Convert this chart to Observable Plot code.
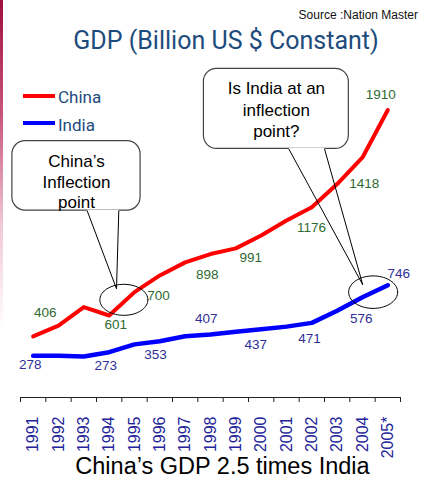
<!DOCTYPE html>
<html><head><meta charset="utf-8">
<script src="https://cdn.jsdelivr.net/npm/d3@7"></script>
<script src="https://cdn.jsdelivr.net/npm/@observablehq/plot@0.6"></script>
<style>
body{margin:0;background:#fff;width:421px;height:478px;overflow:hidden;position:relative;font-family:"Liberation Sans",Arial,sans-serif}
#strip{position:absolute;left:0;top:0;width:3px;height:330px;background:linear-gradient(#9e1040,#c8557c 35%,#f0c8d6 68%,#fff)}
#source{position:absolute;right:3px;top:8px;font-size:12px;line-height:14px;color:#111;white-space:nowrap}
#title{position:absolute;left:0;width:452px;text-align:center;top:26px;font-family:Roboto,sans-serif;font-size:25px;line-height:30px;color:#1d4b7c;white-space:nowrap}
#chart{position:absolute;left:0;top:56px}
#chart svg{overflow:visible}
.lg{position:absolute;height:4px;width:32px;left:23px}
.lt{position:absolute;left:58px;font-family:Roboto,sans-serif;font-size:17px;line-height:20px;color:#1d4b7c}
#caption{position:absolute;left:0;width:445px;text-align:center;top:455px;font-size:23.5px;line-height:22px;color:#000;white-space:nowrap}
</style></head>
<body>
<div id="strip"></div>
<div id="source">Source :Nation Master</div>
<div id="title">GDP (Billion US $ Constant)</div>
<div id="chart"></div>
<div id="legend"></div>
<div id="caption">China’s GDP 2.5 times India</div>
<script>
// ---- data ----
const years = [1991,1992,1993,1994,1995,1996,1997,1998,1999,2000,2001,2002,2003,2004,2005];
const yearLabels = ["1991","1992","1993","1994","1995","1996","1997","1998","1999","2000","2001","2002","2003","2004","2005*"];
const china = [406,478,601,545,700,811,898,953,991,1076,1176,1264,1418,1595,1910];
const india = [278,277,273,301,353,374,407,418,437,454,471,496,576,666,746];
const seriesNames = ["China","India"];
const chinaLabelYears = [1991,1993,1995,1997,1999,2001,2003,2005];
const chinaLabelValues = [406,601,700,898,991,1176,1418,1910];
const indiaLabelYears = [1991,1993,1995,1997,1999,2001,2003,2005];
const indiaLabelValues = [278,273,353,407,437,471,576,746];
const calloutTexts = ["China’s\nInflection\npoint","Is India at an\ninflection\npoint?"];

// ---- layout (pixel offsets of value labels) ----
const chinaOff = [[12,-24],[32,18],[24,4],[22,12],[15,9],[25,7],[27,0],[-7,-15]];
const indiaOff = [[-3,9],[22,9],[21,10],[21,-18],[20,13],[23,12],[24,8],[11,-12]];
const colors = {China:"#ff0000", India:"#0000ff"};

// annotation geometry in data coordinates (year, GDP)
const bubbles = [
  {x1:1990.18, x2:1995.24, y1:1242, y2:1703, tx:1992.71, ty:1438, lh:1.19,
   b1:1993.13, b2:1994.38, tipX:1994.29, tipY:722,
   ex:1994.58, ey:649, erx:0.947, ery:103},
  {x1:1997.74, x2:2003.46, y1:1652, y2:2184, tx:2000.6, ty:1917, lh:1.27,
   b1:2001.09, b2:2002.5, tipX:2004.01, tipY:749,
   ex:2004.42, ey:700, erx:0.967, ery:108}
];

const bounds = years.map(y => y - 0.5).concat([years[years.length-1] + 0.5]);

function ellipsePts(b){
  const pts = [];
  for (let k = 0; k <= 72; k++) {
    const a = k / 72 * 2 * Math.PI;
    pts.push([b.ex + b.erx * Math.cos(a), b.ey + b.ery * Math.sin(a)]);
  }
  return pts;
}

const marks = [
  Plot.ruleY([0], {stroke:"#222", strokeWidth:1.2}),
  Plot.axisX(bounds, {tickSize:5, tickFormat:() => "", stroke:"#222"}),
  Plot.axisX(years, {tickSize:0, tickPadding:19, tickRotate:-90,
    tickFormat: d => yearLabels[years.indexOf(d)],
    fill:"#24249a", fontSize:16, fontFamily:"Liberation Sans, Arial, sans-serif"}),
  Plot.line(years, {x:d => d, y:(d,i) => china[i], stroke:colors.China, strokeWidth:4}),
  Plot.line(years, {x:d => d, y:(d,i) => india[i], stroke:colors.India, strokeWidth:4.5}),
];
chinaLabelYears.forEach((yr,i) => marks.push(Plot.text([chinaLabelValues[i]], {
  x:() => yr, y:d => d, text:d => String(d), dx:chinaOff[i][0], dy:chinaOff[i][1],
  fill:"#2f6a31", fontSize:13.5, fontFamily:"Liberation Sans, Arial, sans-serif"})));
indiaLabelYears.forEach((yr,i) => marks.push(Plot.text([indiaLabelValues[i]], {
  x:() => yr, y:d => d, text:d => String(d), dx:indiaOff[i][0], dy:indiaOff[i][1],
  fill:"#2e2e96", fontSize:13.5, fontFamily:"Liberation Sans, Arial, sans-serif"})));

bubbles.forEach((b,i) => {
  marks.push(Plot.rect([b], {x1:"x1", x2:"x2", y1:"y1", y2:"y2", rx:13, fill:"white", stroke:"#444", strokeWidth:1.2}));
  marks.push(Plot.line([[b.b1,b.y1+6],[b.b2,b.y1+6],[b.b2,b.y1-4],[b.b1,b.y1-4],[b.b1,b.y1+6]], {x:d=>d[0], y:d=>d[1], fill:"white", stroke:"none"}));
  marks.push(Plot.text([calloutTexts[i]], {x:() => b.tx, y:() => b.ty, text:d => d, lineAnchor:"middle", lineHeight:b.lh,
    fill:"#000", fontSize:17, fontFamily:"Liberation Sans, Arial, sans-serif"}));
  marks.push(Plot.link([[b.b1,b.tipX],[b.b2,b.tipX]], {x1:d=>d[0], y1:b.y1, x2:d=>d[1], y2:b.tipY, stroke:"#000", strokeWidth:1}));
  marks.push(Plot.line(ellipsePts(b), {x:d=>d[0], y:d=>d[1], stroke:"#000", strokeWidth:1, curve:"linear"}));
});

const chart = Plot.plot({
  width:421, height:402,
  marginLeft:20, marginRight:21, marginTop:40, marginBottom:61,
  x:{domain:[1990.5,2005.5], axis:null},
  y:{domain:[0,2000], axis:null},
  style:{background:"transparent", overflow:"visible"},
  marks
});
document.getElementById("chart").appendChild(chart);

// legend
const lg = document.getElementById("legend");
seriesNames.forEach((n,i) => {
  const line = document.createElement("div");
  line.className = "lg";
  line.style.top = (94 + i*27) + "px";
  line.style.background = colors[n];
  lg.appendChild(line);
  const t = document.createElement("div");
  t.className = "lt";
  t.style.top = (87 + i*28) + "px";
  t.textContent = n;
  lg.appendChild(t);
});
</script>
</body></html>
